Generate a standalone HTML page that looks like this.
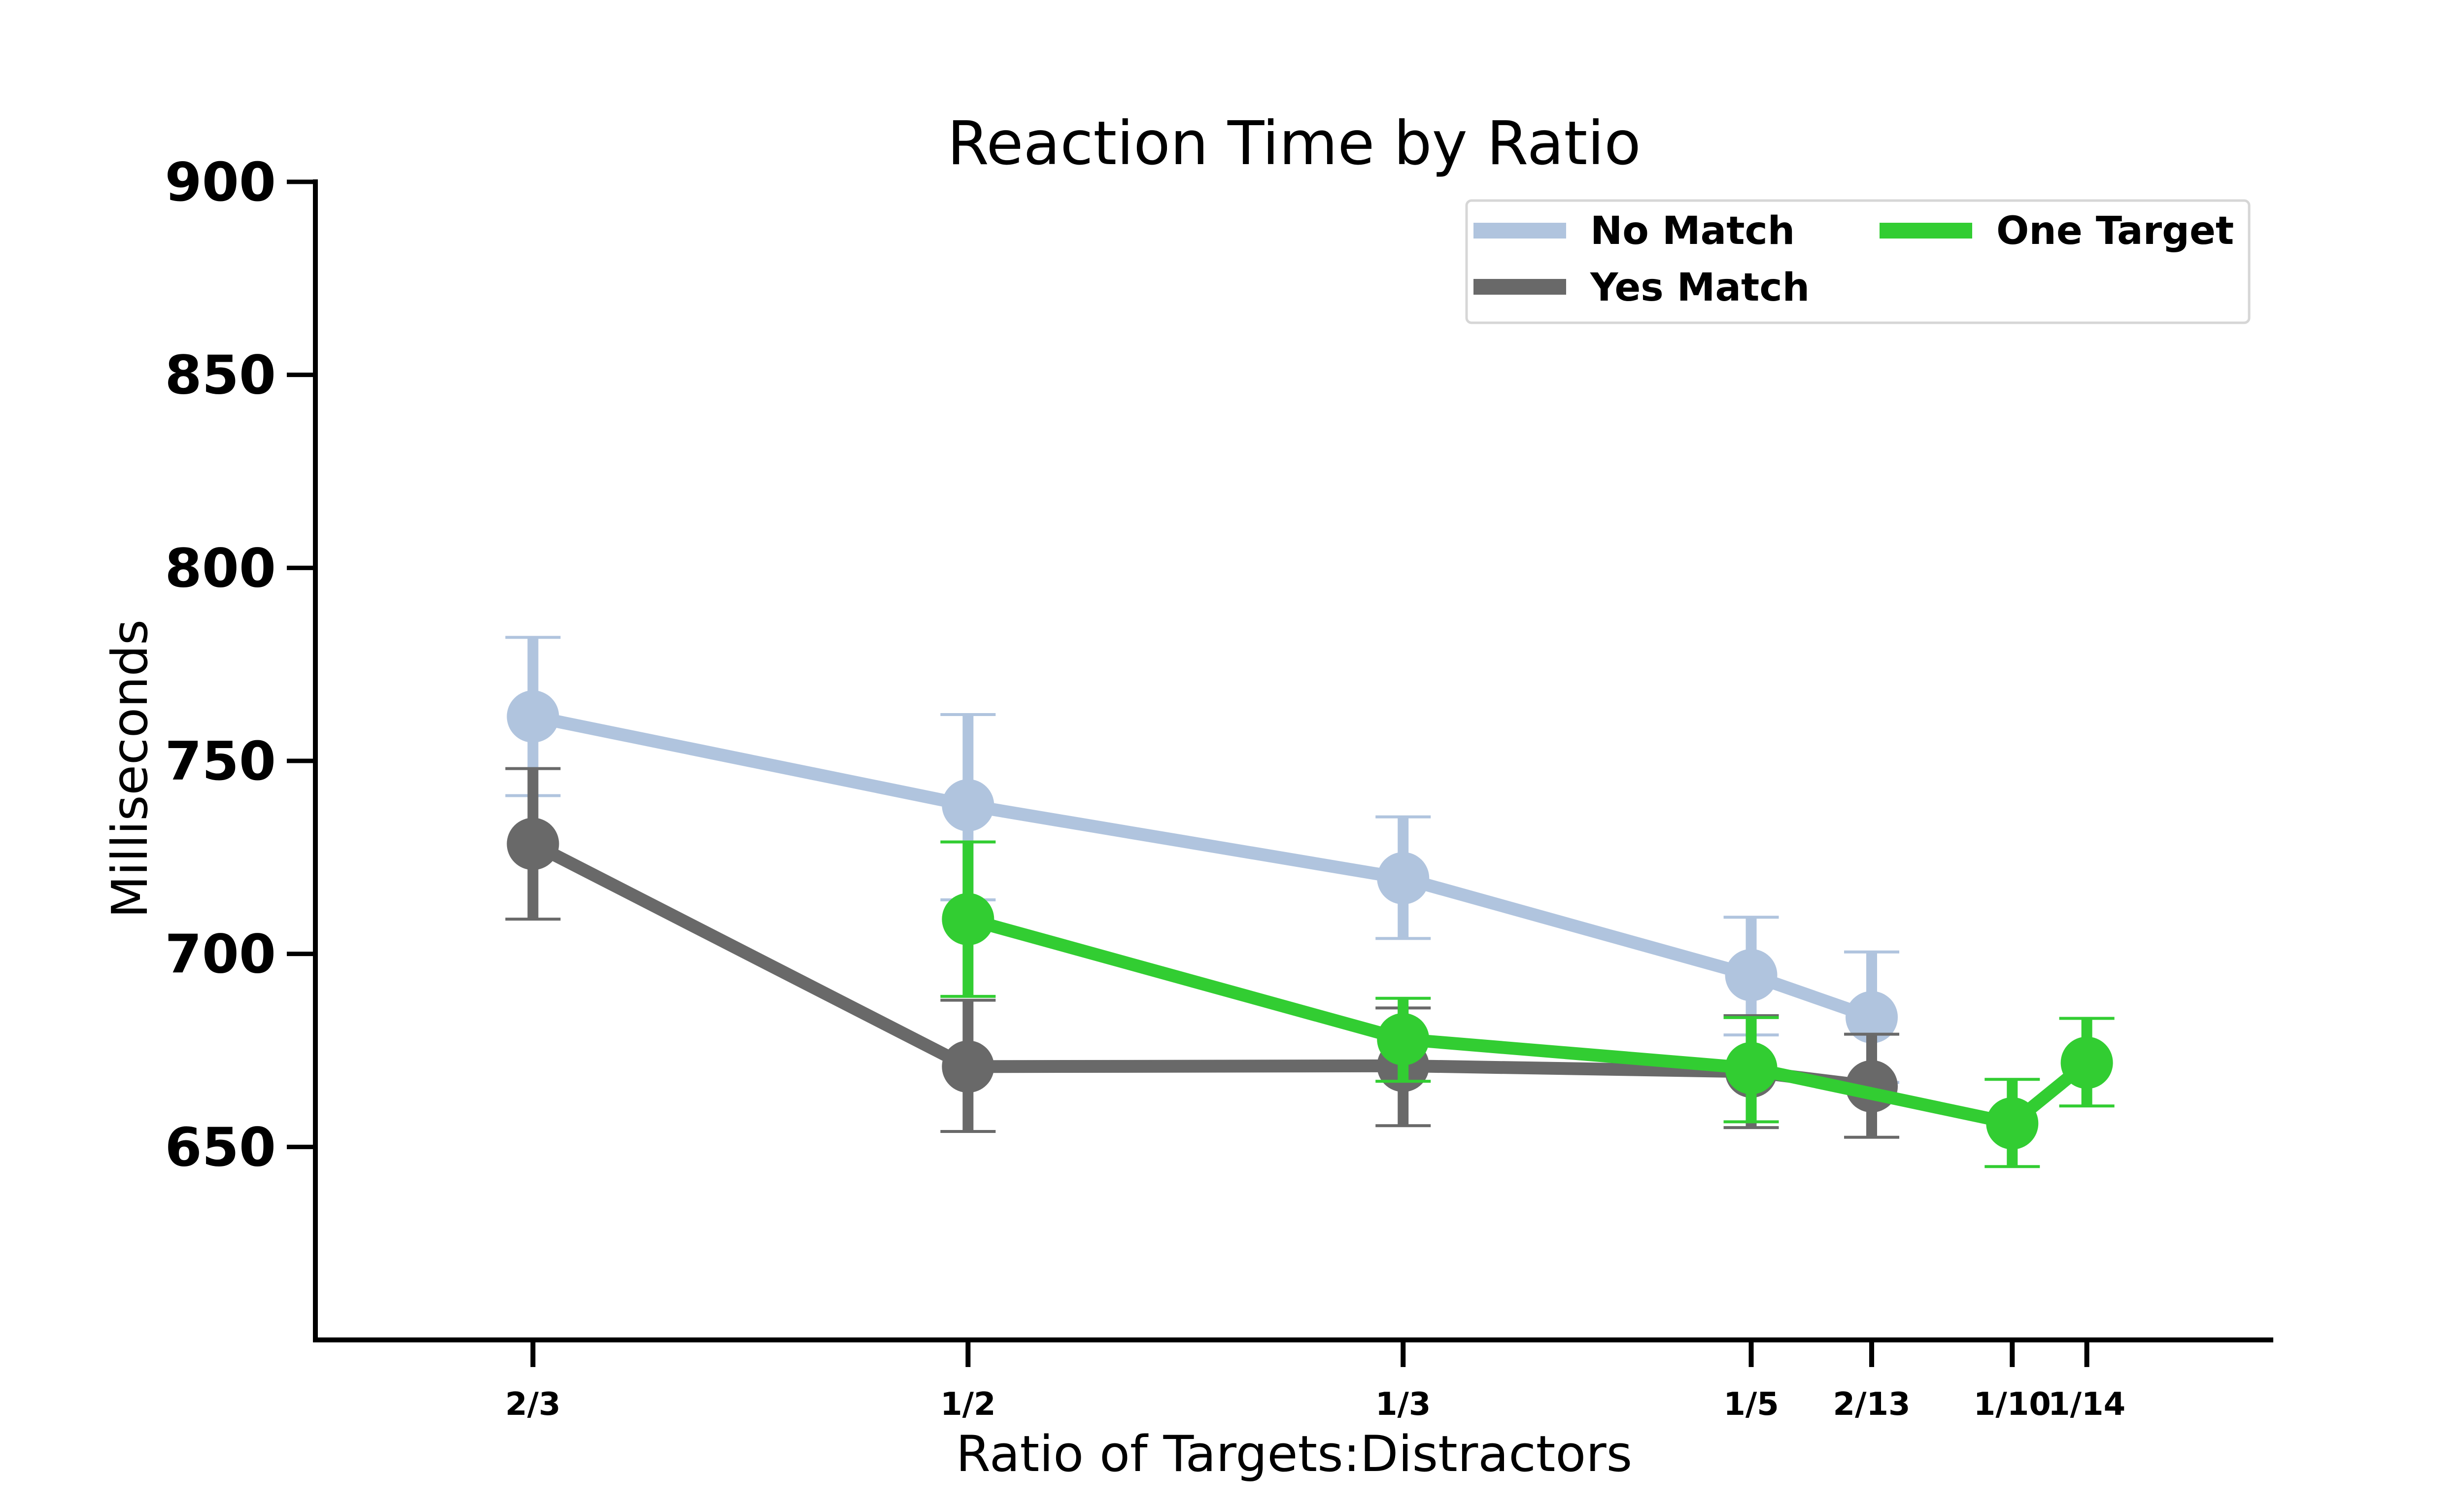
<!DOCTYPE html>
<html><head><meta charset="utf-8"><style>
html,body{margin:0;padding:0;background:#fff;}
svg{display:block;font-family:"DejaVu Sans","Liberation Sans",sans-serif;}
</style></head><body>
<svg id="chart" width="5120" height="3056" viewBox="0 0 5120 3056" xmlns="http://www.w3.org/2000/svg">
<rect width="5120" height="3056" fill="#fff"/>
<text x="2626" y="333" font-size="122" text-anchor="middle" fill="#000">Reaction Time by Ratio</text>
<text transform="translate(298,1560) rotate(-90)" font-size="100" text-anchor="middle" fill="#000">Milliseconds</text>
<text x="2626" y="2985" font-size="101" text-anchor="middle" fill="#000">Ratio of Targets:Distractors</text>
<g id="axes"></g>
<g id="series"></g>
<g>
<rect x="2976" y="407" width="1588" height="248" rx="10" fill="#fff" stroke="#d6d6d6" stroke-width="5"/>
<g>
<rect x="2990" y="452" width="188" height="32" fill="#b0c4de"/>
<text x="3227" y="495" font-size="78" font-weight="bold">No Match</text></g>
<g>
<rect x="2990" y="566" width="188" height="32" fill="#696969"/>
<text x="3227" y="610" font-size="78" font-weight="bold">Yes Match</text></g>
<g>
<rect x="3814" y="452" width="188" height="32" fill="#32cd32"/>
<text x="4051" y="495" font-size="78" font-weight="bold">One Target</text></g>
</g>
</svg>
<script>
const tickLabels = ["2/3","1/2","1/3","1/5","2/13","1/10","1/14"];
const ratios = [2/3, 1/2, 1/3, 1/5, 2/13, 1/10, 1/14];
const yTicks = [650, 700, 750, 800, 850, 900];

const noMatchX = [2/3, 1/2, 1/3, 1/5, 2/13];
const noMatchY = [761.5, 738.5, 719.6, 694.5, 683.6];
const noMatchLo = [741, 714, 704, 679, 666.7];
const noMatchHi = [782, 762, 735.5, 709.5, 700.5];

const yesMatchX = [2/3, 1/2, 1/3, 1/5, 2/13];
const yesMatchY = [728.5, 670.8, 671, 669.5, 665.7];
const yesMatchLo = [709, 654, 655.5, 655, 652.5];
const yesMatchHi = [748, 688, 686, 684, 679.2];

const oneTargetX = [1/2, 1/3, 1/5, 1/10, 1/14];
const oneTargetY = [709, 677.9, 670.4, 656.1, 671.8];
const oneTargetLo = [689, 667, 656.5, 644.9, 660.6];
const oneTargetHi = [729, 688.5, 683.5, 667.5, 683.3];

const L=640,R=4613,T=369,B=2719;
const X=v=>L+(0.75-v)/0.75*(R-L);
const Y=v=>B-(v-600)/300*(B-T);
const NS="http://www.w3.org/2000/svg";
function mk(tag,attrs,parent){const e=document.createElementNS(NS,tag);for(const k in attrs)e.setAttribute(k,attrs[k]);parent.appendChild(e);return e;}
const ax=document.getElementById('axes');
let e=mk('line',{x1:L,y1:T-5,x2:L,y2:B+5,stroke:'#000','stroke-width':10},ax);


e=mk('line',{x1:L-5,y1:B,x2:R,y2:B,stroke:'#000','stroke-width':10},ax);


yTicks.forEach(v=>{
  const t=mk('line',{x1:L-58,x2:L,y1:Y(v),y2:Y(v),stroke:'#000','stroke-width':9},ax);
  
  
  const s=mk('text',{x:L-80,y:Y(v)+38,'font-size':108,'font-weight':'bold','text-anchor':'end'},ax);
  s.textContent=v;
  
  
});
ratios.forEach((r,i)=>{
  const t=mk('line',{x1:X(r),x2:X(r),y1:B,y2:B+55,stroke:'#000','stroke-width':10},ax);
  
  
  const s=mk('text',{x:X(r),y:B+152,'font-size':64,'font-weight':'bold','text-anchor':'middle'},ax);
  s.textContent=tickLabels[i];
  
  
});
const sg=document.getElementById('series');
function series(name,xs,ys,lo,hi,color){
  const g=mk('g',{},sg);
  
  
  xs.forEach((x,i)=>{
    const eb=mk('g',{stroke:color},g);
    
    
    mk('line',{x1:X(x),x2:X(x),y1:Y(lo[i]),y2:Y(hi[i]),'stroke-width':22},eb);
    mk('line',{x1:X(x)-56,x2:X(x)+56,y1:Y(lo[i]),y2:Y(lo[i]),'stroke-width':6},eb);
    mk('line',{x1:X(x)-56,x2:X(x)+56,y1:Y(hi[i]),y2:Y(hi[i]),'stroke-width':6},eb);
  });
  const p=mk('polyline',{points:xs.map((x,i)=>X(x)+','+Y(ys[i])).join(' '),fill:'none',stroke:color,'stroke-width':26,'stroke-linejoin':'round'},g);
  
  
  xs.forEach((x,i)=>{
    const c=mk('circle',{cx:X(x),cy:Y(ys[i]),r:53,fill:color},g);
    
    
  });
}
series('no-match',noMatchX,noMatchY,noMatchLo,noMatchHi,'#b0c4de');
series('yes-match',yesMatchX,yesMatchY,yesMatchLo,yesMatchHi,'#696969');
series('one-target',oneTargetX,oneTargetY,oneTargetLo,oneTargetHi,'#32cd32');
</script>
</body></html>
